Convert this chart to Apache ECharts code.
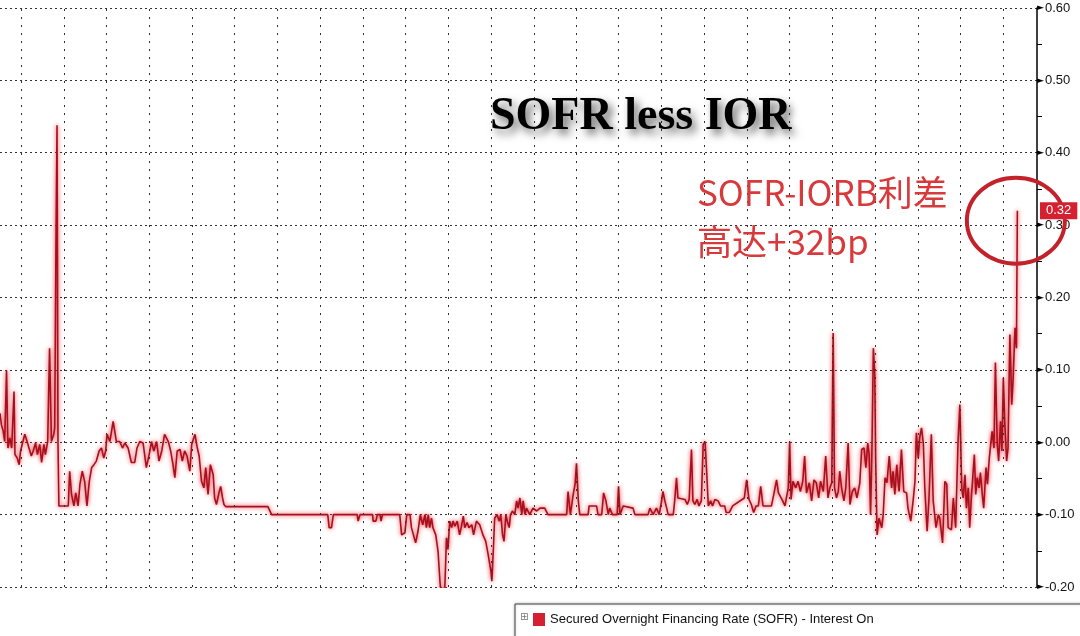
<!DOCTYPE html>
<html>
<head>
<meta charset="utf-8">
<script src="https://cdn.jsdelivr.net/npm/echarts@6/dist/echarts.min.js"></script>
<style>
html,body{margin:0;padding:0;background:#fff;}
#chart{width:1080px;height:636px;}
</style>
</head>
<body>
<div id="chart"></div>
<script>
// ---- data ----
const titleText = 'SOFR less IOR';
const seriesName = 'Secured Overnight Financing Rate (SOFR) - Interest On';
const noteLines = ['SOFR-IORB利差', '高达+32bp'];
const yTicks = [-0.2, 0.6, 0.1]; // min, max, step

const dates = [
 '2019-11-16','2019-11-19','2019-11-23','2019-11-26','2019-11-30','2019-12-03','2019-12-07','2019-12-11','2019-12-16','2019-12-18',
 '2019-12-23','2019-12-27','2019-12-30','2020-01-04','2020-01-08','2020-01-13','2020-01-17','2020-01-22','2020-01-26','2020-01-31',
 '2020-02-04','2020-02-09','2020-02-13','2020-02-18','2020-02-21','2020-02-26','2020-03-01','2020-03-05','2020-03-10','2020-03-12',
 '2020-03-15','2020-03-17','2020-03-19','2020-03-21','2020-04-10','2020-04-13','2020-04-17','2020-04-22','2020-04-26','2020-05-01',
 '2020-05-05','2020-05-10','2020-05-15','2020-05-20','2020-05-25','2020-05-30','2020-06-04','2020-06-09','2020-06-15','2020-06-20',
 '2020-06-25','2020-06-29','2020-07-02','2020-07-08','2020-07-15','2020-07-22','2020-07-29','2020-08-04','2020-08-09','2020-08-16',
 '2020-08-23','2020-08-30','2020-09-04','2020-09-10','2020-09-17','2020-09-24','2020-09-30','2020-10-05','2020-10-10','2020-10-16',
 '2020-10-21','2020-10-27','2020-11-02','2020-11-10','2020-11-15','2020-11-20','2020-11-24','2020-11-29','2020-12-05','2020-12-10',
 '2020-12-15','2020-12-20','2020-12-26','2020-12-30','2021-01-06','2021-01-11','2021-01-15','2021-01-20','2021-01-25','2021-01-29',
 '2021-02-03','2021-02-08','2021-02-14','2021-02-17','2021-02-21','2021-02-27','2021-03-02','2021-03-06','2021-03-09','2021-03-13',
 '2021-06-11','2021-06-19','2021-10-17','2021-10-20','2021-10-25','2021-10-29','2021-12-19','2021-12-21','2021-12-25','2022-01-21',
 '2022-01-22','2022-01-28','2022-01-31','2022-02-06','2022-02-08','2022-02-11','2022-03-20','2022-03-24','2022-03-27','2022-03-31',
 '2022-04-04','2022-04-11','2022-04-14','2022-04-18','2022-04-23','2022-04-28','2022-05-03','2022-05-08','2022-05-13','2022-05-16',
 '2022-05-20','2022-05-23','2022-05-27','2022-05-30','2022-06-05','2022-06-10','2022-06-14','2022-06-16','2022-06-21','2022-06-24',
 '2022-06-28','2022-07-01','2022-07-05','2022-07-09','2022-07-12','2022-07-16','2022-07-21','2022-07-26','2022-07-30','2022-08-03',
 '2022-08-06','2022-08-11','2022-08-15','2022-08-21','2022-08-25','2022-08-31','2022-09-07','2022-09-14','2022-09-20','2022-09-25',
 '2022-10-01','2022-10-03','2022-10-06','2022-10-09','2022-10-14','2022-10-19','2022-10-22','2022-10-26','2022-10-29','2022-11-02',
 '2022-11-05','2022-11-09','2022-11-12','2022-11-16','2022-11-21','2022-11-25','2022-11-28','2022-12-02','2022-12-06','2022-12-09',
 '2022-12-13','2022-12-16','2022-12-23','2022-12-30','2023-01-07','2023-01-14','2023-01-24','2023-01-31','2023-03-12','2023-03-15',
 '2023-03-20','2023-03-26','2023-03-30','2023-04-02','2023-04-06','2023-04-09','2023-04-27','2023-04-29','2023-05-15','2023-05-18',
 '2023-05-26','2023-05-30','2023-06-04','2023-06-09','2023-06-12','2023-06-18','2023-06-28','2023-07-01','2023-07-04','2023-07-11',
 '2023-08-01','2023-08-05','2023-09-02','2023-09-06','2023-09-13','2023-09-20','2023-09-26','2023-10-01','2023-10-04','2023-10-08',
 '2023-10-12','2023-10-15','2023-10-26','2023-10-29','2023-11-02','2023-11-05','2023-11-09','2023-11-20','2023-11-25','2023-11-29',
 '2023-12-04','2023-12-07','2023-12-11','2023-12-16','2023-12-20','2023-12-25','2023-12-29','2024-01-02','2024-01-05','2024-01-09',
 '2024-01-14','2024-01-18','2024-01-23','2024-01-30','2024-02-04','2024-02-13','2024-02-16','2024-02-23','2024-03-01','2024-03-26',
 '2024-03-31','2024-04-05','2024-04-10','2024-04-15','2024-04-20','2024-04-25','2024-04-30','2024-05-05','2024-05-23','2024-05-28',
 '2024-06-03','2024-06-07','2024-06-11','2024-06-16','2024-06-21','2024-06-24','2024-06-28','2024-07-01','2024-07-04','2024-07-08',
 '2024-07-14','2024-07-19','2024-07-24','2024-07-29','2024-08-02','2024-08-06','2024-08-12','2024-08-17','2024-08-22','2024-08-27',
 '2024-09-01','2024-09-05','2024-09-11','2024-09-16','2024-09-21','2024-09-25','2024-09-29','2024-10-02','2024-10-05','2024-10-09',
 '2024-10-13','2024-10-16','2024-10-20','2024-10-25','2024-10-29','2024-11-03','2024-11-07','2024-11-12','2024-11-17','2024-11-22',
 '2024-11-28','2024-12-02','2024-12-07','2024-12-11','2024-12-15','2024-12-18','2024-12-21','2024-12-24','2024-12-27','2024-12-30',
 '2025-01-01','2025-01-04','2025-01-08','2025-01-14','2025-01-17','2025-01-21','2025-01-25','2025-01-30','2025-02-04','2025-02-07',
 '2025-02-11','2025-02-15','2025-02-20','2025-02-25','2025-03-02','2025-03-08','2025-03-11','2025-03-17','2025-03-22','2025-03-26',
 '2025-03-29','2025-04-02','2025-04-05','2025-04-09','2025-04-13','2025-04-16','2025-04-21','2025-04-25','2025-04-30','2025-05-04',
 '2025-05-10','2025-05-15','2025-05-18','2025-05-24','2025-05-29','2025-06-02','2025-06-05','2025-06-12','2025-06-16','2025-06-21',
 '2025-06-26','2025-06-30','2025-07-04','2025-07-07','2025-07-11','2025-07-14','2025-07-18','2025-07-21','2025-07-25','2025-07-28',
 '2025-07-31','2025-08-03','2025-08-06','2025-08-10','2025-08-13','2025-08-17','2025-08-20','2025-08-25','2025-08-28','2025-09-01',
 '2025-09-04','2025-09-07','2025-09-11','2025-09-14','2025-09-18','2025-09-21','2025-09-25','2025-09-28','2025-10-01','2025-10-04',
 '2025-10-08','2025-10-11','2025-10-15','2025-10-19','2025-10-22','2025-10-26','2025-10-29','2025-10-31'
];
const spread = [
 0.040,0.024,0.015,0.001,0.099,-0.008,0.006,-0.008,0.070,-0.017,
 -0.022,-0.031,-0.012,0.001,0.011,0.001,-0.008,-0.019,-0.012,-0.001,
 -0.017,-0.003,-0.028,-0.003,-0.017,0.001,0.130,0.001,0.011,0.020,
 0.300,0.438,0.000,-0.088,-0.088,-0.040,-0.072,-0.088,-0.070,-0.088,
 -0.058,-0.040,-0.054,-0.088,-0.054,-0.035,-0.031,-0.026,-0.012,-0.008,
 -0.022,-0.012,0.011,0.001,0.029,0.001,0.001,-0.008,-0.001,-0.008,
 -0.028,-0.028,-0.008,0.001,-0.001,-0.035,-0.017,0.001,-0.012,0.001,
 -0.026,-0.012,0.011,0.001,-0.012,-0.031,-0.049,-0.012,-0.010,-0.026,
 -0.012,-0.019,-0.040,-0.003,0.011,-0.008,-0.019,-0.054,-0.063,-0.035,
 -0.072,-0.031,-0.045,-0.077,-0.086,-0.068,-0.061,-0.077,-0.086,-0.089,
 -0.089,-0.100,-0.100,-0.118,-0.118,-0.100,-0.100,-0.109,-0.100,-0.100,
 -0.109,-0.109,-0.100,-0.100,-0.109,-0.100,-0.100,-0.128,-0.130,-0.125,
 -0.100,-0.100,-0.118,-0.118,-0.139,-0.123,-0.100,-0.114,-0.100,-0.118,
 -0.100,-0.118,-0.105,-0.118,-0.128,-0.151,-0.192,-0.208,-0.201,-0.208,
 -0.132,-0.148,-0.109,-0.118,-0.109,-0.116,-0.109,-0.128,-0.116,-0.102,
 -0.118,-0.111,-0.118,-0.114,-0.128,-0.109,-0.114,-0.128,-0.137,-0.155,
 -0.178,-0.192,-0.151,-0.105,-0.100,-0.109,-0.100,-0.128,-0.137,-0.100,
 -0.109,-0.118,-0.100,-0.095,-0.100,-0.081,-0.091,-0.077,-0.100,-0.081,
 -0.100,-0.091,-0.100,-0.091,-0.095,-0.091,-0.091,-0.100,-0.100,-0.068,
 -0.100,-0.072,-0.058,-0.029,-0.081,-0.100,-0.100,-0.088,-0.088,-0.100,
 -0.100,-0.070,-0.081,-0.100,-0.091,-0.100,-0.100,-0.061,-0.100,-0.088,
 -0.091,-0.100,-0.100,-0.091,-0.100,-0.091,-0.100,-0.081,-0.068,-0.081,
 -0.091,-0.100,-0.100,-0.081,-0.049,-0.077,-0.079,-0.079,-0.086,-0.079,
 -0.010,-0.081,-0.086,-0.079,-0.088,-0.081,-0.003,0.001,-0.035,-0.088,
 -0.081,-0.088,-0.079,-0.081,-0.088,-0.088,-0.097,-0.097,-0.088,-0.077,
 -0.052,-0.079,-0.086,-0.097,-0.088,-0.088,-0.061,-0.088,-0.088,-0.072,
 -0.052,-0.070,-0.072,-0.081,-0.088,-0.077,-0.063,0.001,-0.079,-0.054,
 -0.063,-0.054,-0.068,-0.054,-0.019,-0.070,-0.056,-0.081,-0.052,-0.056,
 -0.077,-0.054,-0.068,-0.019,-0.077,-0.063,-0.056,0.151,-0.063,-0.077,
 -0.068,-0.040,-0.063,-0.081,-0.063,-0.001,-0.086,-0.068,-0.063,-0.077,
 -0.056,-0.010,-0.008,-0.035,-0.001,-0.017,-0.100,-0.008,0.130,0.094,
 -0.026,-0.128,-0.105,-0.118,-0.100,-0.049,-0.056,-0.019,-0.063,-0.040,
 -0.072,-0.031,-0.068,-0.010,-0.068,-0.070,-0.091,-0.109,-0.081,-0.054,
 0.013,-0.022,0.006,0.020,-0.003,-0.063,-0.123,-0.077,0.011,-0.081,
 -0.118,-0.100,-0.105,-0.139,-0.054,-0.058,-0.118,-0.121,-0.077,-0.118,
 -0.001,0.052,-0.063,-0.077,-0.045,-0.091,-0.063,-0.118,-0.072,-0.045,
 -0.017,-0.072,-0.049,-0.063,-0.042,-0.072,-0.091,-0.035,-0.058,-0.022,
 -0.003,0.015,-0.008,0.110,-0.003,-0.026,0.029,-0.012,0.089,0.029,
 -0.026,-0.008,0.149,0.052,0.089,0.158,0.130,0.320
];
// quarterly vertical gridlines
const quarterDates = [
 '2020-01-01','2020-04-01','2020-07-01','2020-10-01','2021-01-01','2021-04-01','2021-07-01','2021-10-01',
 '2022-01-01','2022-04-01','2022-07-01','2022-10-01','2023-01-01','2023-04-01','2023-07-01','2023-10-01',
 '2024-01-01','2024-04-01','2024-07-01','2024-10-01','2025-01-01','2025-04-01','2025-07-01','2025-10-01'
];
const xRange = ['2019-11-16', '2025-12-12'];

// ---- chart ----
const chart = echarts.init(document.getElementById('chart'), null, {renderer: 'canvas'});
const seriesData = dates.map((d, i) => [d, spread[i]]);
const lastIdx = spread.length - 1;

const option = {
  animation: false,
  backgroundColor: '#ffffff',
  title: {
    text: titleText,
    left: 485, top: 89,
    textStyle: {
      fontFamily: 'Liberation Serif', fontWeight: 'bold', fontSize: 46, color: '#000',
      textShadowColor: 'rgba(0,0,0,0.6)', textShadowBlur: 8, textShadowOffsetX: 4, textShadowOffsetY: 5
    }
  },
  grid: {left: 0, right: 43, top: 8, bottom: 49, containLabel: false},
  xAxis: {
    type: 'time', min: xRange[0], max: xRange[1],
    axisLine: {show: false}, axisTick: {show: false}, axisLabel: {show: false}, splitLine: {show: false}
  },
  yAxis: {
    type: 'value', position: 'right', min: yTicks[0], max: yTicks[1], interval: yTicks[2],
    axisLine: {show: true, lineStyle: {color: '#000', width: 1.5}},
    axisTick: {show: false},
    minorTick: {show: true, splitNumber: 2, length: 5, lineStyle: {color: '#000', width: 1}},
    axisLabel: {
      margin: 0,
      formatter: v => '{t|►}' + v.toFixed(2),
      fontFamily: 'Liberation Sans', fontSize: 13, color: '#111',
      rich: {t: {fontFamily: 'DejaVu Sans', fontSize: 9, color: '#000', padding: [0, 1, 0, 0]}}
    },
    splitLine: {show: true, lineStyle: {color: '#333', width: 1, type: [2, 3]}},
    axisPointer: {
      show: true, type: 'none', status: 'show', value: spread[lastIdx], triggerTooltip: false,
      label: {
        show: true, margin: 3, formatter: p => Number(p.value).toFixed(2),
        backgroundColor: '#d42030', color: '#fff', fontFamily: 'Liberation Sans', fontSize: 13,
        padding: [2, 6, 2, 6], borderRadius: 0
      }
    }
  },
  legend: {
    left: 515, top: 604, padding: [9, 300, 20, 18],
    borderColor: '#444', borderWidth: 1, backgroundColor: '#fff',
    shadowColor: 'rgba(0,0,0,0.25)', shadowBlur: 3,
    itemWidth: 12, itemHeight: 13, icon: 'rect',
    textStyle: {fontFamily: 'Liberation Sans', fontSize: 13, color: '#111'},
    data: [{name: seriesName, itemStyle: {color: '#d42030'}}]
  },
  series: [
    {
      name: 'grid-v', type: 'line', data: [], z: 1, silent: true,
      markLine: {
        silent: true, symbol: ['none', 'none'], animation: false, label: {show: false},
        lineStyle: {color: '#333', width: 1, type: [2, 6]},
        data: quarterDates.map(d => ({xAxis: d}))
      }
    },
    {
      name: seriesName, type: 'line', z: 3, data: seriesData,
      showSymbol: false, symbol: 'none', sampling: null,
      itemStyle: {color: '#d42030'},
      lineStyle: {color: '#a5101f', width: 1.6, shadowColor: 'rgba(240,25,35,0.95)', shadowBlur: 4}
    }
  ],
  graphic: []
};
chart.setOption(option);

// annotation anchored to the last observation
const lastPt = chart.convertToPixel({xAxisIndex: 0, yAxisIndex: 0}, [dates[lastIdx], spread[lastIdx]]);
chart.setOption({
  graphic: [
    {
      type: 'text', left: 697, top: 168, z: 10,
      style: {
        text: noteLines.join('\n'), fill: '#d8393b',
        font: '35px "Noto Sans CJK SC"', lineHeight: 49
      }
    },
    {
      type: 'ellipse', z: 10,
      shape: {cx: lastPt[0] - 1.5, cy: lastPt[1] + 10, rx: 49, ry: 43},
      style: {fill: 'none', stroke: '#c4222a', lineWidth: 4}
    },
    {
      type: 'text', left: 520, top: 612, z: 20,
      style: {text: '⊞', fill: '#777', font: '10px "DejaVu Sans"'}
    }
  ]
});
</script>
</body>
</html>
